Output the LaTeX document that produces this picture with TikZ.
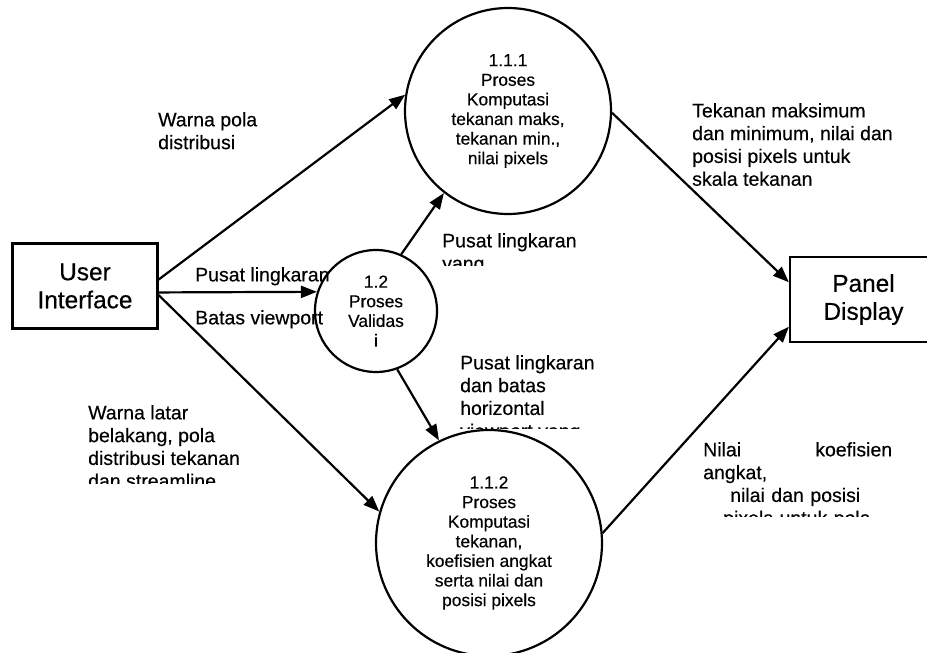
\documentclass[tikz,border=0pt]{standalone}
\usepackage{fontspec}
\setmainfont{Liberation Sans}[FakeBold=0.35]
\usetikzlibrary{arrows.meta,positioning}
\tikzstyle{arrow} = [line width=2.2pt,-{Triangle[length=16pt,width=12pt]}]
\tikzstyle{entity} = [rectangle, draw, line width=2.2pt, minimum width=145pt, minimum height=85pt, align=center, font=\fontsize{24.4}{28}\selectfont]
\tikzstyle{process} = [circle, draw, line width=2.2pt, inner sep=0pt, align=center, font=\fontsize{17.4}{19.6}\selectfont]
\tikzstyle{flowlabel} = [anchor=north west, inner sep=0pt, align=left, font=\fontsize{19.5}{22.8}\selectfont]

\begin{document}
\begin{tikzpicture}[x=1pt,y=-1pt]
\useasboundingbox (0,0) rectangle (927,653);
% External entities
\node (ui) [entity] at (85,286) {User\\Interface};
\node (panel) [entity, minimum width=147pt] at (863.5,299.5) {Panel\\Display};

% Processes
\node (p111) [process, minimum size=206pt] at (508,111) {1.1.1\\Proses\\Komputasi\\tekanan maks,\\tekanan min.,\\nilai pixels};
\node (p12) [process, minimum size=122pt] at (376,311) {1.2\\Proses\\Validas\\i};
\node (p112) [process, minimum size=226pt] at (489,543) {1.1.2\\Proses\\Komputasi\\tekanan,\\koefisien angkat\\serta nilai dan\\posisi pixels};

% Data flows
\draw[arrow] (ui.5) -- (p111.171);
\draw[arrow] (ui.-5) -- (p12.162);
\draw[arrow] (ui.-7.5) -- (p112.164);
\draw[arrow] (p12.66) -- (p111.232);
\draw[arrow] (p12.-70) -- (p112.116);
\draw[arrow] (p111.-1) -- (panel.167);
\draw[arrow] (p112.5) -- (panel.200);

% Flow labels
\node (lwarna) [flowlabel] at (158,112) {Warna pola\\distribusi};
\node (lpusat) [flowlabel] at (195,267) {Pusat lingkaran};
\node (lbatas) [flowlabel] at (195,310) {Batas viewport};
\begin{scope}
\clip (80,400) rectangle (300,483);
\node (llatar) [flowlabel] at (88,405) {Warna latar\\belakang, pola\\distribusi tekanan\\dan streamline};
\end{scope}
\begin{scope}
\clip (435,225) rectangle (620,265);
\node (lvalid) [flowlabel] at (442,233) {Pusat lingkaran\\yang};
\end{scope}
\begin{scope}
\clip (455,350) rectangle (640,428);
\node (lhoriz) [flowlabel] at (460,355) {Pusat lingkaran\\dan batas\\horizontal\\viewport yang};
\end{scope}
\begin{scope}
\clip (685,95) rectangle (927,187);
\node (lmaks) [flowlabel] at (692,103) {Tekanan maksimum\\dan minimum, nilai dan\\posisi pixels untuk\\skala tekanan};
\end{scope}
\begin{scope}
\clip (695,435) rectangle (927,516);
\node (lnilai) [flowlabel, text width=189pt] at (703,442) {Nilai\hfill koefisien\\angkat,\\\hspace*{27pt}nilai dan posisi\\\hspace*{20pt}pixels untuk pola};
\end{scope}
\end{tikzpicture}
\end{document}
